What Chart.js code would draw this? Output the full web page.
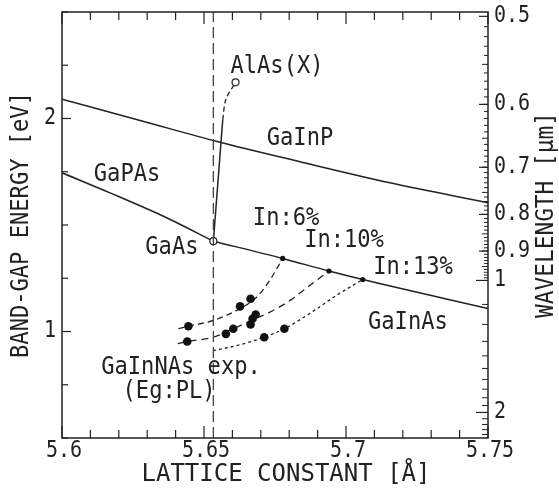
<!DOCTYPE html>
<html>
<head>
<meta charset="utf-8">
<script src="https://cdn.jsdelivr.net/npm/chart.js@4/dist/chart.umd.min.js"></script>
<style>
  body { margin: 0; background: #fff; }
  canvas { display: block; }
</style>
</head>
<body>
<canvas id="gapChart" width="559" height="490"></canvas>
<script>
// Band-gap energy (eV) against lattice constant (Å), wavelength on the right
const latticeTicks = [5.6, 5.65, 5.7, 5.75];
const energyTicks = [1, 2];
const wavelengthTicks = [0.5, 0.6, 0.7, 0.8, 0.9, 1, 2];

const gaAsA = 5.6533, gaAsEg = 1.424;
const alAsA = 5.6611, alAsEg = 2.17;

const gaInPA = [5.6, 5.6275, 5.6546, 5.6838, 5.7155, 5.75];
const gaInPEg = [2.09, 1.991, 1.892, 1.797, 1.698, 1.604];

const gaPAsA = [5.6, 5.6169, 5.637, 5.6533];
const gaPAsEg = [1.745, 1.651, 1.533, 1.424];

const gaInAsA = [5.6533, 5.6777, 5.694, 5.7059, 5.75];
const gaInAsEg = [1.424, 1.343, 1.284, 1.244, 1.108];

// AlGaAs: direct part solid, X-valley part dashed
const alGaAsA = [5.6533, 5.6566];
const alGaAsEg = [1.424, 1.995];
const alGaAsXA = [5.6566, 5.6577, 5.6611];
const alGaAsXEg = [1.995, 2.09, 2.17];

// GaInAs compositions and the GaInNAs trends running from them
const inNames = ['In:6%', 'In:10%', 'In:13%'];
const inA = [5.6777, 5.694, 5.7059];
const inEg = [1.343, 1.284, 1.244];

const in6A = [5.641, 5.6445, 5.6533, 5.6633, 5.6686, 5.6732, 5.6777];
const in6Eg = [1.013, 1.025, 1.052, 1.112, 1.162, 1.241, 1.343];
const in10A = [5.6408, 5.6441, 5.6533, 5.6603, 5.6682, 5.6732, 5.6803, 5.6873, 5.694];
const in10Eg = [0.943, 0.953, 0.973, 1.013, 1.061, 1.091, 1.146, 1.217, 1.284];
const in13A = [5.6532, 5.6615, 5.6712, 5.6783, 5.6873, 5.6967, 5.7059];
const in13Eg = [0.91, 0.934, 0.973, 1.013, 1.085, 1.17, 1.244];

// GaInNAs measured (PL) points
const expA = [5.6445, 5.6441, 5.6627, 5.6664, 5.6577, 5.6603, 5.6682, 5.6671, 5.6664, 5.6712, 5.6783];
const expEg = [1.025, 0.953, 1.118, 1.154, 0.989, 1.013, 1.08, 1.06, 1.033, 0.973, 1.013];

const HC = 1.2398; // eV·µm
const ink = '#222';
const MONO = '"DejaVu Sans Mono", monospace';

const pts = (xs, ys) => xs.map((x, i) => ({ x, y: ys[i] }));

// text labels placed in data coordinates
const notes = [
  { t: 'AlAs(X)', a: 5.6757, e: 2.241 },
  { t: 'GaInP', a: 5.6838, e: 1.906 },
  { t: 'GaPAs', a: 5.6229, e: 1.736 },
  { t: 'GaAs', a: 5.6387, e: 1.392 },
  { t: inNames[0], a: 5.6789, e: 1.528 },
  { t: inNames[1], a: 5.6993, e: 1.425 },
  { t: inNames[2], a: 5.7236, e: 1.297 },
  { t: 'GaInAs', a: 5.7218, e: 1.042 },
  { t: 'GaInNAs exp.', a: 5.6419, e: 0.83 },
  { t: '(Eg:PL)', a: 5.6377, e: 0.717 }
];

function monoText(ctx, str, x, y, size, sx, align, rotate) {
  ctx.save();
  ctx.translate(x, y);
  if (rotate) ctx.rotate(-Math.PI / 2);
  ctx.scale(sx, 1);
  ctx.font = size + 'px ' + MONO;
  ctx.fillStyle = ink;
  ctx.textAlign = align;
  ctx.textBaseline = 'middle';
  ctx.fillText(str, 0, 0);
  ctx.restore();
}

const solid = (data) => ({
  data, showLine: true, borderColor: ink, borderWidth: 1.5,
  pointRadius: 0, cubicInterpolationMode: 'monotone'
});
const dashed = (data, dash) => ({
  data, showLine: true, borderColor: ink, borderWidth: 1.3, borderDash: dash,
  pointRadius: 0, cubicInterpolationMode: 'monotone'
});

// frame, inward ticks, tick labels, axis titles and notes
const frame = {
  id: 'frame',
  afterDraw(chart) {
    const { ctx, chartArea: a, scales: { x, y } } = chart;
    ctx.save();
    ctx.strokeStyle = ink;
    ctx.lineCap = 'butt';
    const seg = (x1, y1, x2, y2) => {
      ctx.beginPath(); ctx.moveTo(x1, y1); ctx.lineTo(x2, y2); ctx.stroke();
    };

    // GaAs lattice match
    ctx.lineWidth = 1.3;
    ctx.strokeStyle = '#444';
    ctx.setLineDash([11, 5]);
    const gx = x.getPixelForValue(gaAsA);
    seg(gx, a.bottom, gx, a.top);
    ctx.setLineDash([]);
    ctx.strokeStyle = ink;

    ctx.lineWidth = 1.5;
    ctx.strokeRect(a.left, a.top, a.right - a.left, a.bottom - a.top);

    ctx.lineWidth = 1.2;
    for (let i = 0; i <= 15; i++) {
      const px = x.getPixelForValue(5.6 + i * 0.01);
      const len = i % 5 === 0 ? 12 : 8;
      seg(px, a.bottom, px, a.bottom - len);
      seg(px, a.top, px, a.top + len);
    }
    for (let i = 2; i <= 10; i++) {
      const py = y.getPixelForValue(i * 0.25);
      seg(a.left, py, a.left + (i % 4 === 0 ? 9 : 6), py);
    }

    // wavelength ticks
    const minor = [];
    for (let i = 51; i < 100; i++) minor.push(i / 100);
    for (let i = 11; i < 25; i++) if (i !== 20) minor.push(i / 10);
    ctx.lineWidth = 1;
    minor.forEach(l => {
      const py = y.getPixelForValue(HC / l);
      const len = (Math.round(l * 100) % 5 === 0) ? 6 : 4;
      seg(a.right, py, a.right - len, py);
    });
    ctx.lineWidth = 1.2;
    wavelengthTicks.forEach(l => {
      const py = y.getPixelForValue(HC / l);
      seg(a.right, py, a.right - (l >= 1 ? 12 : 9), py);
    });
    ctx.restore();

    latticeTicks.forEach(v => {
      monoText(ctx, v.toString(), x.getPixelForValue(v) + 2, a.bottom + 13, 23, 0.87, 'center');
    });
    energyTicks.forEach(v => {
      monoText(ctx, v.toString(), a.left - 6, y.getPixelForValue(v), 23, 0.87, 'right');
    });
    wavelengthTicks.forEach(l => {
      monoText(ctx, l.toString(), a.right + 6, y.getPixelForValue(HC / l), 23, 0.87, 'left');
    });

    monoText(ctx, 'LATTICE CONSTANT [Å]', (a.left + a.right) / 2 + 11, a.bottom + 37, 24, 1.0, 'center');
    monoText(ctx, 'BAND-GAP ENERGY [eV]', 22, 225, 24, 0.92, 'center', true);
    monoText(ctx, 'WAVELENGTH [µm]', 547, 215, 24, 0.95, 'center', true);

    notes.forEach(n => {
      monoText(ctx, n.t, x.getPixelForValue(n.a), y.getPixelForValue(n.e), 24, 0.92, 'center');
    });
  }
};

new Chart(document.getElementById('gapChart'), {
  type: 'scatter',
  data: {
    datasets: [
      { data: [{ x: gaAsA, y: gaAsEg }, { x: alAsA, y: alAsEg }],
        pointRadius: 3.5, pointBackgroundColor: '#fff', pointBorderColor: ink, pointBorderWidth: 1.2 },
      { data: pts(expA, expEg), pointRadius: 4.3, pointBackgroundColor: '#111', pointBorderWidth: 0 },
      { data: pts(inA, inEg), pointRadius: 2.6, pointBackgroundColor: '#111', pointBorderWidth: 0 },
      solid(pts(gaInPA, gaInPEg)),
      solid(pts(gaPAsA, gaPAsEg)),
      solid(pts(gaInAsA, gaInAsEg)),
      { ...solid(pts(alGaAsA, alGaAsEg)), cubicInterpolationMode: 'default', tension: 0 },
      { ...dashed(pts(alGaAsXA, alGaAsXEg), [5, 3]), cubicInterpolationMode: 'default', tension: 0.3 },
      dashed(pts(in6A, in6Eg), [6, 4]),
      dashed(pts(in10A, in10Eg), [7, 5]),
      dashed(pts(in13A, in13Eg), [3, 3])
    ]
  },
  options: {
    responsive: false,
    animation: false,
    devicePixelRatio: 1,
    layout: { padding: { left: 62, right: 71, top: 12, bottom: 52 } },
    plugins: { legend: { display: false }, tooltip: { enabled: false } },
    scales: {
      x: { type: 'linear', min: 5.6, max: 5.75, display: false },
      y: { type: 'linear', min: 0.5, max: 2.5, display: false }
    }
  },
  plugins: [frame]
});
</script>
</body>
</html>
